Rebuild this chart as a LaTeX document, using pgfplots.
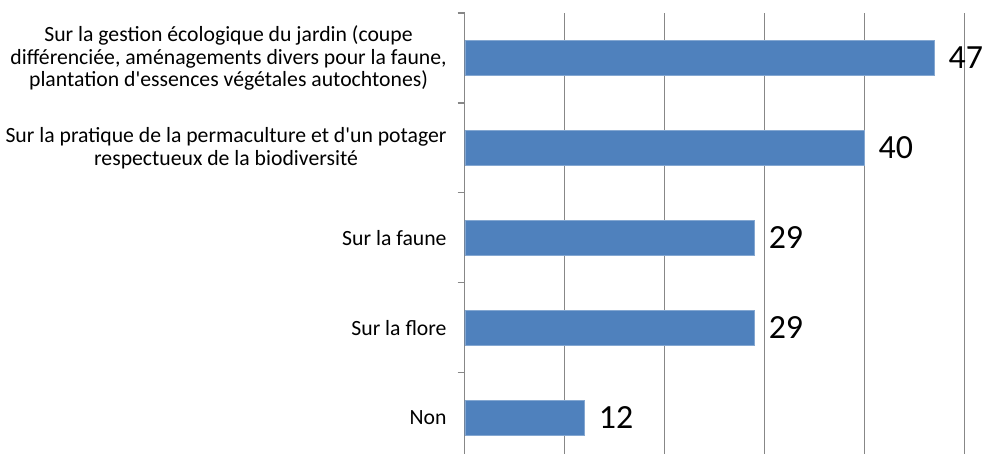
\documentclass[border=0pt]{standalone}
\usepackage{pgfplots}
\pgfplotsset{compat=1.18}
\usepackage{fontspec}
\setmainfont{Carlito}
\definecolor{barblue}{HTML}{4F81BD}
\definecolor{gridgray}{HTML}{878787}
\begin{document}
\begin{tikzpicture}
\begin{axis}[
  scale only axis,
  width=500bp, height=441bp,
  xmin=0, xmax=50, ymin=-0.4, ymax=4.5,
  xbar, bar width=35bp,
  axis lines*=left,
  x axis line style={draw=none},
  y axis line style={gridgray, line width=1.2bp},
  xtick={10,20,30,40,50}, xticklabels={},
  xmajorgrids, grid style={gridgray, line width=1.4bp},
  major tick length=0pt,
  ytick={0,1,2,3,4},
  yticklabels={Non, Sur la flore, Sur la faune,
    {Sur la pratique de la permaculture et d\textquotesingle un potager\\respectueux de la biodiversité},
    {Sur la gestion écologique du jardin (coupe\\différenciée, aménagements divers pour la faune,\\plantation d\textquotesingle essences végétales autochtones)}},
  yticklabel style={align=center, font=\fontsize{21.8}{23}\selectfont, inner sep=0pt, xshift=-18bp},
  minor ytick={-0.5,0.5,1.5,2.5,3.5,4.5},
  minor tick length=7bp, tick align=outside,
  minor y tick style={gridgray, line width=1.2bp},
  /pgf/number format/assume math mode=true,
  nodes near coords,
  nodes near coords style={font=\fontsize{34}{40}\selectfont, anchor=west, inner sep=0pt, xshift=14bp},
]
\addplot[fill=barblue, draw=barblue!70!white] coordinates {(12,0) (29,1) (29,2) (40,3) (47,4)};
\coordinate (ll) at (rel axis cs:0,0);
\end{axis}
\useasboundingbox (ll) ++(-465bp,0) rectangle ++(983bp,454bp);
\end{tikzpicture}
\end{document}
